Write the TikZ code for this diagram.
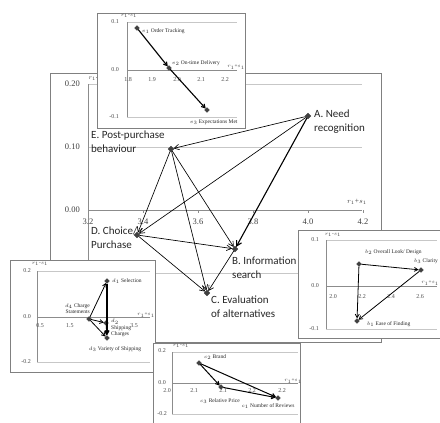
\documentclass[tikz,border=0pt]{standalone}
\usepackage{fontspec}
\setmainfont{Liberation Serif}
\newfontfamily\calib{Carlito}
\usetikzlibrary{arrows.meta,shapes.geometric}

\newcommand\rMinusS{$r_1$-$s_1$}
\newcommand\rPlusS{$r_1$+$s_1$}

\begin{document}
\begin{tikzpicture}[x=1pt,y=-1pt,
  frame/.style={draw=black!50, fill=white, line width=0.7pt},
  grid/.style={draw=black!22, line width=0.5pt},
  axis/.style={draw=black!45, line width=0.5pt},
  mk/.style={diamond, fill=black!75, draw=black!75, inner sep=0pt, minimum size=6pt},
  smk/.style={mk, minimum size=5pt},
  link/.style={-{Straight Barb[length=5pt,width=5.5pt]}, line width=0.65pt, black},
  slink/.style={-{Straight Barb[length=3.5pt,width=4pt]}, line width=0.8pt, black},
  stage/.style={font=\calib\fontsize{11}{13.5}\selectfont, align=left, inner sep=0pt, anchor=north west, text=black!85},
  tickm/.style={font=\fontsize{8.5}{10}\selectfont, inner sep=0pt, text=black!75},
  ticks/.style={font=\fontsize{6}{7}\selectfont, inner sep=0pt, text=black!70},
  lab/.style={font=\fontsize{5.5}{6.4}\selectfont, inner sep=0pt, text=black!85, align=left},
  ttl/.style={font=\fontsize{5.3}{6}\selectfont, inner sep=0pt, text=black!75}]
\useasboundingbox (0,0) rectangle (440,423);
\clip (0,0) rectangle (440,423);

% ---------------- main chart: five decision stages ----------------
\draw[frame] (50,73) rectangle (381,342);
\foreach \y in {84,147,273} \draw[grid] (88,\y) -- (362,\y);
\draw[axis] (88,84) -- (88,336);
\draw[axis] (88,210) -- (362,210);
\foreach \x/\t in {88/3.2,143/3.4,198/3.6,253/3.8,308/4.0,363/4.2}{
  \draw[axis] (\x,210) -- (\x,213);
  \node[tickm] at (\x,222) {\t};
}
\node[tickm, anchor=east] at (80,84) {0.20};
\node[tickm, anchor=east] at (80,147) {0.10};
\node[tickm, anchor=east] at (80,210) {0.00};
\node[ttl, font=\fontsize{6.5}{7}\selectfont] at (97,79) {\rMinusS};
\node[tickm, font=\fontsize{7.5}{8}\selectfont] at (357,202) {\rPlusS};

\node[mk] (A) at (308,116) {};
\node[mk] (B) at (235,249) {};
\node[mk] (C) at (207,293) {};
\node[mk] (D) at (137,235) {};
\node[mk] (E) at (171,149) {};

\node[stage] at (314,110) {A. Need\\recognition};
\node[stage] at (232,257) {B. Information\\search};
\node[stage] at (211,296) {C. Evaluation\\of alternatives};
\node[stage] at (91,227) {D. Choice/\\Purchase};
\node[stage] at (91,131) {E. Post-purchase\\behaviour};

\draw[link] (A) -- (E);
\draw[link] (A) -- (D);
\draw[link, line width=1.1pt] (A) -- (B);
\draw[link] (B) -- (C);
\draw[link] (E) -- (D);
\draw[link] (E) -- (B);
\draw[link] (E) -- (C);
\draw[link] (D) -- (B);
\draw[link] (D) -- (C);

% ---------------- panel e: post-purchase items ----------------
\draw[frame] (97,13) rectangle (245,128);
\foreach \y in {22,117} \draw[grid] (127,\y) -- (237,\y);
\draw[axis] (127,22) -- (127,117);
\draw[axis] (127,70) -- (237,70);
\foreach \x/\t in {128/1.8,152/1.9,177/2.0,201/2.1,225/2.2}
  \node[ticks] at (\x,80) {\t};
\node[ticks, anchor=east] at (119,22) {0.1};
\node[ticks, anchor=east] at (119,70) {0.0};
\node[ticks, anchor=east] at (119,117) {-0.1};
\node[ttl] at (129,16) {\rMinusS};
\node[ttl] at (236,67) {\rPlusS};

\node[smk] (e1) at (137,28) {};
\node[smk] (e2) at (169,68) {};
\node[smk] (e3) at (207,110) {};
\node[lab, anchor=west] at (142,31) {$e_1$ Order Tracking};
\node[lab, anchor=west] at (172,63) {$e_2$ On-time Delivery};
\node[lab, anchor=west] at (190,122) {$e_3$ Expectations Met};
\draw[slink, line width=1.1pt] (e1) -- (e2);
\draw[slink, line width=1.1pt] (e2) -- (e3);

% ---------------- panel d: choice / purchase items ----------------
\draw[frame] (10,260) rectangle (155,372);
\foreach \y in {271,362} \draw[grid] (37,\y) -- (150,\y);
\draw[axis] (37,271) -- (37,362);
\draw[axis] (37,317) -- (150,317);
\foreach \x/\t in {40/0.5,70/1.5,134/3.5}
  \node[ticks] at (\x,326) {\t};
\node[ticks, anchor=east] at (31,271) {0.2};
\node[ticks, anchor=east] at (31,317) {0.0};
\node[ticks, anchor=east] at (31,362) {-0.2};
\node[ttl] at (40,264) {\rMinusS};
\node[ttl] at (146,315) {\rPlusS};

\node[smk] (d1) at (107,281) {};
\node[smk] (d4) at (89,319) {};
\node[smk] (d2) at (106,323) {};
\node[smk] (d3) at (107,338) {};
\node[lab, anchor=west] at (112,281) {$d_1$ Selection};
\node[lab, anchor=south east, align=right] at (90,314) {$d_4$ Charge\\Statements};
\node[lab, anchor=north west] at (111,319) {$d_2$\\Shipping\\Charges};
\node[lab] at (115,349) {$d_3$ Variety of Shipping};
\draw[slink, line width=1.3pt] (d1) -- (d3);
\draw[slink] (d4) -- (d1);
\draw[slink] (d4) -- (d2);
\draw[slink] (d4) -- (d3);
\draw[slink] (d2) -- (d3);

% ---------------- panel c: evaluation items ----------------
\draw[frame] (153,343) rectangle (300,430);
\foreach \y in {352,414} \draw[grid] (172,\y) -- (298,\y);
\draw[axis] (172,352) -- (172,414);
\draw[axis] (172,383) -- (298,383);
\foreach \x/\t in {167/2.0,194/2.1,223/2.1,252/2.2,282/2.2}
  \node[ticks] at (\x,391) {\t};
\node[ticks, anchor=east] at (166,351) {0.2};
\node[ticks, anchor=east] at (166,383) {0.0};
\node[ticks, anchor=east] at (167,414) {-0.2};
\node[ttl] at (181,346) {\rMinusS};
\node[ttl] at (293,381) {\rPlusS};

\node[smk] (c2) at (199,363) {};
\node[smk] (c3) at (221,387) {};
\node[smk] (c1) at (278,398) {};
\node[lab, anchor=west] at (204,357) {$c_2$ Brand};
\node[lab] at (220,401) {$c_3$ Relative Price};
\node[lab] at (268,406) {$c_1$ Number of Reviews};
\draw[slink, line width=1pt] (c2) -- (c3);
\draw[slink, line width=1pt] (c2) -- (c1);
\draw[slink, line width=1pt] (c3) -- (c1);

% ---------------- panel b: information search items ----------------
\draw[frame] (298,230) rectangle (446,338);
\foreach \y in {240,329} \draw[grid] (326,\y) -- (437,\y);
\draw[axis] (326,240) -- (326,329);
\draw[axis] (326,286) -- (437,286);
\foreach \x/\t in {333/2.0,362/2.2,391/2.4,420/2.6}
  \node[ticks] at (\x,297) {\t};
\node[ticks, anchor=east] at (319,240) {0.1};
\node[ticks, anchor=east] at (319,286) {0.0};
\node[ticks, anchor=east] at (319,329) {-0.1};
\node[ttl] at (333,235) {\rMinusS};
\node[ttl, anchor=east] at (439,283) {\rPlusS};

\node[smk] (b2) at (359,264) {};
\node[smk] (b3) at (421,270) {};
\node[smk] (b1) at (357,321) {};
\node[lab, anchor=west] at (365,252) {$b_2$ Overall Look/ Design};
\node[lab, anchor=west] at (414,261) {$b_3$ Clarity};
\node[lab, anchor=west] at (367,324) {$b_1$ Ease of Finding};
\draw[slink] (b2) -- (b3);
\draw[slink] (b3) -- (b1);
\draw[slink] (b2) -- (b1);
\end{tikzpicture}
\end{document}
